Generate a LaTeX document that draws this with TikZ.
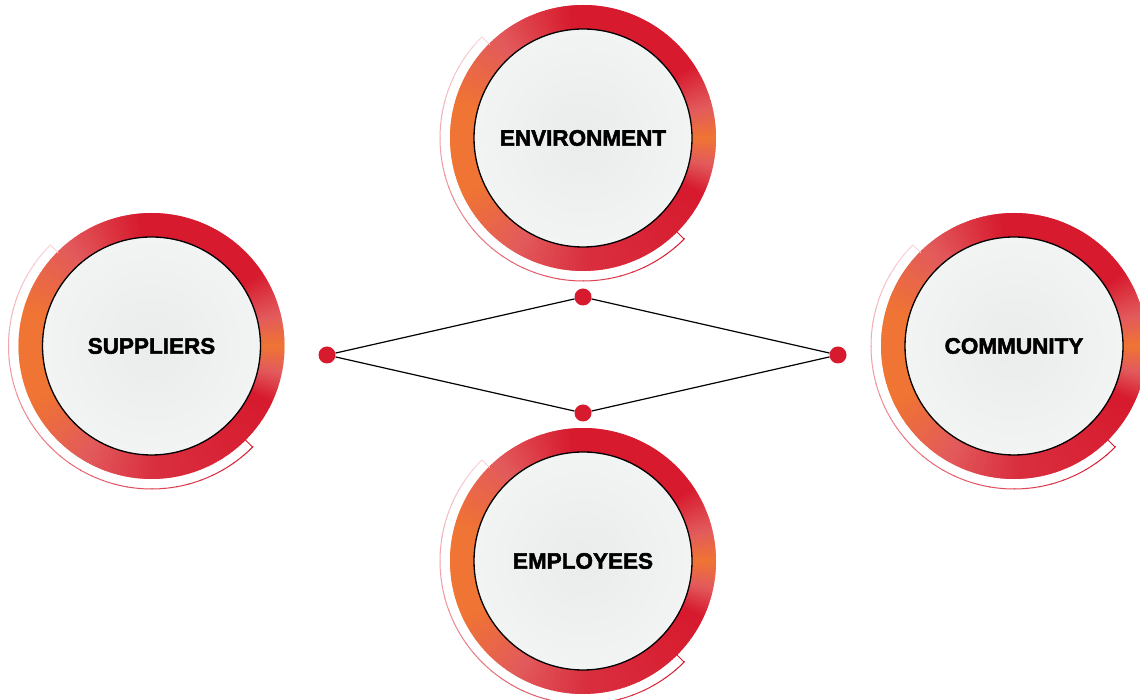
\documentclass[tikz,border=0pt]{standalone}
\usepackage{fontspec}
\setmainfont{Liberation Sans}[BoldFeatures={FakeBold=2.2}]
\definecolor{rr}{HTML}{D71A2E}
\definecolor{rp}{HTML}{E25A5C}
\definecolor{ro}{HTML}{F07433}
\definecolor{rr2}{HTML}{D92E3E}
\definecolor{pale}{HTML}{F9D3D7}
\definecolor{discin}{HTML}{EAECEC}
\definecolor{discout}{HTML}{FAFAFA}
\pgfdeclareradialshading{discshade}{\pgfpoint{0bp}{0bp}}{color(0bp)=(discin); color(50bp)=(discout)}
\tikzset{
  disc/.style={circle, draw=black, line width=1.3pt, shading=discshade,
    minimum size=218pt, inner sep=0pt,
    font=\fontsize{22.5}{26}\selectfont\bfseries},
  dotnode/.style={circle, fill=rr, minimum size=17pt, inner sep=0pt},
  link/.style={draw=black, line width=1.2pt},
  thinarc/.style={line width=1pt}
}
\newcommand\stakeholder[3]{%
  \begin{scope}[shift={#2}]
    \foreach \a/\b/\ca/\cb in {0/14/ro/rp, 14/34/rp/rr, 34/95/rr/rr, 95/130/rr/rp, 130/165/rp/ro, 165/205/ro/ro, 205/240/ro/rp, 240/272/rp/rr2, 272/335/rr2/rr, 335/348/rr/rp, 348/360/rp/ro}{
      \pgfmathtruncatemacro\n{\b-\a-1}
      \foreach \k in {0,...,\n}{
        \pgfmathsetmacro\p{100*(\k+0.5)/(\b-\a)}
        \pgfmathsetmacro\s{\a+\k}
        \pgfmathsetmacro\e{\a+\k+1.6}
        \fill[color=\cb!\p!\ca] (0,0) -- (\s:133) arc[start angle=\s, end angle=\e, radius=133] -- cycle;
      }
    }
    \foreach \k in {0,...,35}{
      \pgfmathsetmacro\s{135+5*\k}
      \pgfmathsetmacro\e{135+5*\k+5.4}
      \pgfmathsetmacro\p{100*\k/35}
      \draw[thinarc, color=rr!\p!pale] (\s:143) arc[start angle=\s, end angle=\e, radius=143];
    }
    \draw[thinarc, color=pale] (135:143) -- (135:132);
    \draw[thinarc, color=rr] (315:143) -- (315:132);
    \node[disc] (#1) at (0,0) {#3};
  \end{scope}
}
\begin{document}
\begin{tikzpicture}[x=1pt,y=1pt]
\useasboundingbox (0,0) rectangle (1140,700);
\fill[white] (0,0) rectangle (1140,700);
\stakeholder{env}{(583,562)}{ENVIRONMENT}
\stakeholder{sup}{(151.5,354)}{SUPPLIERS}
\stakeholder{com}{(1014,354)}{COMMUNITY}
\stakeholder{emp}{(583,139)}{EMPLOYEES}
\node[dotnode] (dl) at (327,345) {};
\node[dotnode] (dt) at (583,403) {};
\node[dotnode] (dr) at (838,345) {};
\node[dotnode] (db) at (583,287) {};
\draw[link] (dl) -- (dt) -- (dr) -- (db) -- (dl);
\end{tikzpicture}
\end{document}
